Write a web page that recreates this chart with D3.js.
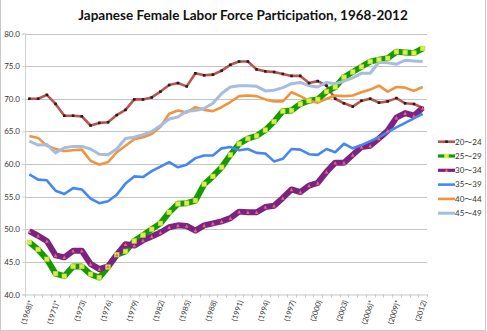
<!DOCTYPE html>
<html><head><meta charset="utf-8">
<script src="https://cdn.jsdelivr.net/npm/d3@7"></script>
<style>html,body{margin:0;padding:0;background:#fff;}svg{display:block;}</style>
</head><body>
<svg id="chart" width="487" height="331"></svg>
<script>
const categories = ["(1968)*","(1969)","(1970)","(1971)*","(1972)*","(1972)","(1973)","(1974)","(1975)","(1976)","(1977)","(1978)","(1979)","(1980)","(1981)","(1982)","(1983)","(1984)","(1985)","(1986)","(1987)","(1988)","(1989)","(1990)","(1991)","(1992)","(1993)","(1994)","(1995)","(1996)","(1997)","(1998)","(1999)","(2000)","(2001)","(2002)","(2003)","(2004)","(2005)","(2006)*","(2007)","(2008)","(2009)*","(2010)","(2011)","(2012)"];
const seriesNames = ["20～24","25～29","30～34","35～39","40～44","45～49"];
const s20_24 = [70.0,70.0,70.6,69.2,67.4,67.4,67.3,65.9,66.3,66.4,67.5,68.3,69.9,69.9,70.2,71.1,72.1,72.4,71.9,73.9,73.6,73.7,74.3,75.2,75.7,75.7,74.5,74.2,74.1,73.8,73.5,73.5,72.4,72.7,72.0,70.0,69.3,68.8,69.7,70.0,69.4,69.6,70.1,69.3,69.2,68.6];
const s25_29 = [48.0,46.9,45.4,43.2,42.8,44.3,44.3,43.1,42.6,44.2,46.1,46.6,48.2,49.1,50.0,50.9,52.6,53.9,54.0,54.4,56.9,58.1,59.5,61.4,63.1,63.9,64.3,65.2,66.5,68.1,68.2,69.2,69.7,69.9,71.1,71.8,73.3,74.1,74.9,75.7,76.0,76.2,77.2,77.1,77.0,77.7];
const s30_34 = [49.7,49.0,48.2,46.0,45.7,46.7,46.7,44.7,43.9,44.3,46.1,47.7,47.5,48.3,48.9,49.5,50.3,50.6,50.5,49.8,50.6,50.9,51.2,51.7,52.7,52.6,52.6,53.4,53.6,54.8,56.1,55.7,56.7,57.1,58.8,60.2,60.2,61.4,62.6,62.8,63.9,65.1,67.1,67.8,67.4,68.6];
const s35_39 = [58.4,57.6,57.5,55.9,55.4,56.3,56.1,54.7,54.0,54.3,55.3,57.0,58.1,58.0,58.9,59.6,60.3,59.5,59.9,60.9,61.3,61.3,62.4,62.6,62.1,62.3,61.7,61.6,60.4,60.8,62.3,62.2,61.5,61.4,62.3,61.8,63.1,62.4,62.9,63.5,64.1,64.9,65.6,66.3,67.0,67.7];
const s40_44 = [64.3,64.0,62.8,62.3,62.0,62.1,62.2,60.5,59.9,60.3,61.8,62.8,63.8,64.1,64.6,65.7,67.7,68.2,67.9,68.7,68.3,68.1,68.7,69.5,70.4,70.5,70.4,69.9,69.6,69.6,71.0,70.4,69.7,69.4,70.0,70.5,70.4,70.5,71.0,71.4,72.0,71.1,71.8,71.7,71.2,71.8];
const s45_49 = [63.5,62.9,63.0,61.7,62.5,62.7,62.7,62.3,61.5,61.4,62.3,63.9,64.1,64.5,65.0,65.9,66.9,67.2,68.1,68.2,68.5,69.3,70.8,71.8,72.0,72.0,71.9,71.2,71.3,71.7,72.3,72.5,72.0,71.8,72.5,72.3,72.7,73.2,73.9,73.9,75.6,75.5,75.3,75.9,75.8,75.7];
const yTicks = [40,45,50,55,60,65,70,75,80];
const title = "Japanese Female Labor Force Participation, 1968-2012";

const seriesData = [s20_24,s25_29,s30_34,s35_39,s40_44,s45_49];
const styles = [
  {color:"#b9544e", width:2.6, marker:"sq", mfill:"#2a1a1a", msize:2.6},
  {color:"#159a00", width:6,   marker:"sq", mfill:"#d8f04c", msize:4.6},
  {color:"#7c2382", width:6,   marker:"tri", mfill:"#e8687a", msize:3.6},
  {color:"#4587f2", width:2.6, marker:null},
  {color:"#ef9540", width:2.6, marker:null},
  {color:"#a6bde0", width:3,   marker:null}
];

const svg = d3.select("#chart");
const L = 25, R = 427, T = 33.5, B = 294.5;
const x = d3.scaleBand().domain(categories).range([L, R]).padding(0);
const y = d3.scaleLinear().domain([40, 80]).range([B, T]);
const cx = d => x(d) + x.bandwidth() / 2;

// outer border
svg.append("path").attr("d", "M0.5,0 V330.5 H485.5 V0").attr("fill","none").attr("stroke","#c8c8c8").attr("stroke-width",1);

// title
svg.append("text").attr("x", 243).attr("y", 20).attr("text-anchor","middle")
  .attr("font-family","Lato, 'Open Sans', sans-serif").attr("font-weight","bold")
  .attr("font-size","13.5px").attr("fill","#111").text(title);

// gridlines
svg.append("g").selectAll("line").data(yTicks.filter(v => v > 40)).join("line")
  .attr("x1", L).attr("x2", R).attr("y1", d => Math.round(y(d)) + 0.5).attr("y2", d => Math.round(y(d)) + 0.5)
  .attr("stroke", "#c4c4c4").attr("stroke-width", 1);

// y axis
const yAxis = d3.axisLeft(y).tickValues(yTicks).tickFormat(d3.format(".1f")).tickSize(3).tickPadding(2);
const gy = svg.append("g").attr("transform", `translate(${L},0)`).call(yAxis);
gy.select(".domain").attr("stroke", "#d0d0d0");
gy.selectAll(".tick line").attr("stroke", "#d0d0d0");
gy.selectAll("text").attr("font-family","Lato, 'Open Sans', sans-serif").attr("font-size","8px").attr("fill","#333");

// x axis
const xAxis = d3.axisBottom(x).tickSize(0).tickFormat("");
const gx = svg.append("g").attr("transform", `translate(0,${B})`).call(xAxis);
gx.select(".domain").attr("stroke", "#c8c8c8");
gx.selectAll(".tick").remove();
gx.selectAll("line.t").data(categories.concat(["__end"])).join("line")
  .attr("x1", (d,i) => Math.round(L + i * x.step()) + 0.5).attr("x2", (d,i) => Math.round(L + i * x.step()) + 0.5)
  .attr("y1", 0).attr("y2", 3).attr("stroke", "#c8c8c8");
svg.append("g").selectAll("text").data(categories.filter((d,i) => i % 3 === 0)).join("text")
  .attr("transform", d => `translate(${cx(d) + 1.5},${B + 6}) rotate(-72)`)
  .attr("text-anchor", "end").attr("dy", "0.35em")
  .attr("font-family","Lato, 'Open Sans', sans-serif").attr("font-size","7.5px").attr("fill","#333")
  .text(d => d);

// lines
const line = d3.line().x((d,i) => cx(categories[i])).y(d => y(d));
seriesData.forEach((vals, k) => {
  const st = styles[k];
  svg.append("path").datum(vals).attr("d", line).attr("fill","none")
    .attr("stroke", st.color).attr("stroke-width", st.width).attr("stroke-linejoin","round");
});
// markers
seriesData.forEach((vals, k) => {
  const st = styles[k];
  if (!st.marker) return;
  const g = svg.append("g");
  if (st.marker === "sq") {
    g.selectAll("rect").data(vals).join("rect")
      .attr("x", (d,i) => cx(categories[i]) - st.msize/2).attr("y", d => y(d) - st.msize/2)
      .attr("width", st.msize).attr("height", st.msize).attr("fill", st.mfill)
      .attr("stroke", k === 1 ? "#b5d63a" : "none").attr("stroke-width", 0.6);
  } else {
    const s = st.msize;
    g.selectAll("path").data(vals).join("path")
      .attr("d", (d,i) => { const px = cx(categories[i]), py = y(d); return `M${px},${py - s/2}L${px + s/2},${py + s/2}L${px - s/2},${py + s/2}Z`; })
      .attr("fill", st.mfill);
  }
});

// legend
const lg = svg.append("g");
seriesNames.forEach((name, k) => {
  const st = styles[k];
  const ly = 141.7 + k * 14.3;
  lg.append("line").attr("x1", 438).attr("x2", 455).attr("y1", ly).attr("y2", ly)
    .attr("stroke", st.color).attr("stroke-width", Math.min(st.width, 3.2));
  if (st.marker === "sq") {
    lg.append("rect").attr("x", 446.5 - st.msize/2).attr("y", ly - st.msize/2).attr("width", st.msize).attr("height", st.msize).attr("fill", st.mfill);
  } else if (st.marker === "tri") {
    const s = st.msize;
    lg.append("path").attr("d", `M446.5,${ly - s/2}L${446.5 + s/2},${ly + s/2}L${446.5 - s/2},${ly + s/2}Z`).attr("fill", st.mfill);
  }
  lg.append("text").attr("x", 455).attr("y", ly).attr("dy", "0.35em")
    .attr("font-family","Lato, 'Noto Sans CJK JP', sans-serif").attr("font-size","8px").attr("fill","#333").text(name);
});
</script>
</body></html>
